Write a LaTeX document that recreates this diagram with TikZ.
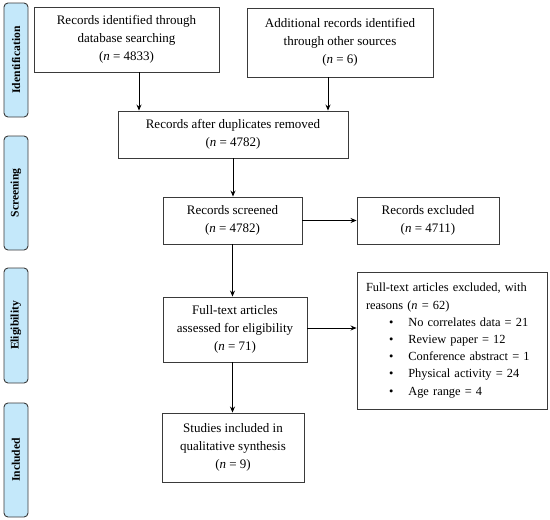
\documentclass[tikz,border=0pt]{standalone}
\usepackage{fontspec}
\setmainfont{Liberation Serif}
\usetikzlibrary{arrows.meta}
\definecolor{sidefill}{HTML}{C4E8FA}
\definecolor{edge}{HTML}{3A3A3A}
\begin{document}
\begin{tikzpicture}[x=1pt,y=-1pt,
  box/.style={draw=edge,line width=0.9pt,minimum width=#1,inner sep=0pt,align=center,font=\fontsize{13}{18.3}\selectfont},
  side/.style={draw=edge,line width=0.9pt,fill=sidefill,rounded corners=4pt,minimum width=24pt,minimum height=114pt,inner sep=0pt},
  sidetext/.style={rotate=90,font=\bfseries\fontsize{11.6}{14}\selectfont},
  arr/.style={-{Stealth[length=6pt,width=5pt]},line width=0.9pt,draw=black}]
\useasboundingbox (0,0) rectangle (550,520);
% side labels
\node[side] (s1) at (16,60) {};
\node[sidetext] at (s1.center) {Identification};
\node[side] (s2) at (16,193) {};
\node[sidetext] at (s2.center) {Screening};
\node[side,minimum height=115pt] (s3) at (16,325.5) {};
\node[sidetext] at (s3.center) {Eligibility};
\node[side] (s4) at (16,460) {};
\node[sidetext] at (s4.center) {Included};
% boxes
\node[box=185pt,minimum height=65pt] (b1) at (126.5,39.5) {Records identified through\\database searching\\(\textit{n} = 4833)};
\node[box=186pt,minimum height=69pt] (b2) at (340,42.5) {Additional records identified\\through other sources\\(\textit{n} = 6)};
\node[box=230pt,minimum height=47pt] (b3) at (233,134.5) {Records after duplicates removed\\(\textit{n} = 4782)};
\node[box=139pt,minimum height=47pt] (b4) at (232.5,220.5) {Records screened\\(\textit{n} = 4782)};
\node[box=142pt,minimum height=47pt] (b5) at (428,220.5) {Records excluded\\(\textit{n} = 4711)};
\node[box=144pt,minimum height=65pt] (b6) at (235,329.5) {Full-text articles\\assessed for eligibility\\(\textit{n} = 71)};
\node[box=190pt,minimum height=137pt,text width=190pt,align=left,font=\fontsize{12.4}{17.2}\selectfont] (b7) at (452,340.5) {%
\hspace*{9pt}Full-text articles excluded, with\\
\hspace*{9pt}reasons (\textit{n} = 62)\\
\hspace*{32pt}\textbullet\hspace{15pt}No correlates data = 21\\
\hspace*{32pt}\textbullet\hspace{15pt}Review paper = 12\\
\hspace*{32pt}\textbullet\hspace{15pt}Conference abstract = 1\\
\hspace*{32pt}\textbullet\hspace{15pt}Physical activity = 24\\
\hspace*{32pt}\textbullet\hspace{15pt}Age range = 4};
\node[box=142pt,minimum height=69pt] (b8) at (233,447.5) {Studies included in\\qualitative synthesis\\(\textit{n} = 9)};
% arrows
\draw[arr] ([xshift=12.5pt]b1.south) -- ([xshift=12.5pt]b1.south |- b3.north);
\draw[arr] ([xshift=-12pt]b2.south) -- ([xshift=-12pt]b2.south |- b3.north);
\draw[arr] (b3.south) -- (b3.south |- b4.north);
\draw[arr] (b4.east) -- (b4.east -| b5.west);
\draw[arr] (b4.south) -- (b4.south |- b6.north);
\draw[arr] ([yshift=1.5pt]b6.east) -- ([yshift=1.5pt]b6.east -| b7.west);
\draw[arr] (b4.south |- b6.south) -- (b4.south |- b8.north);
\end{tikzpicture}
\end{document}
